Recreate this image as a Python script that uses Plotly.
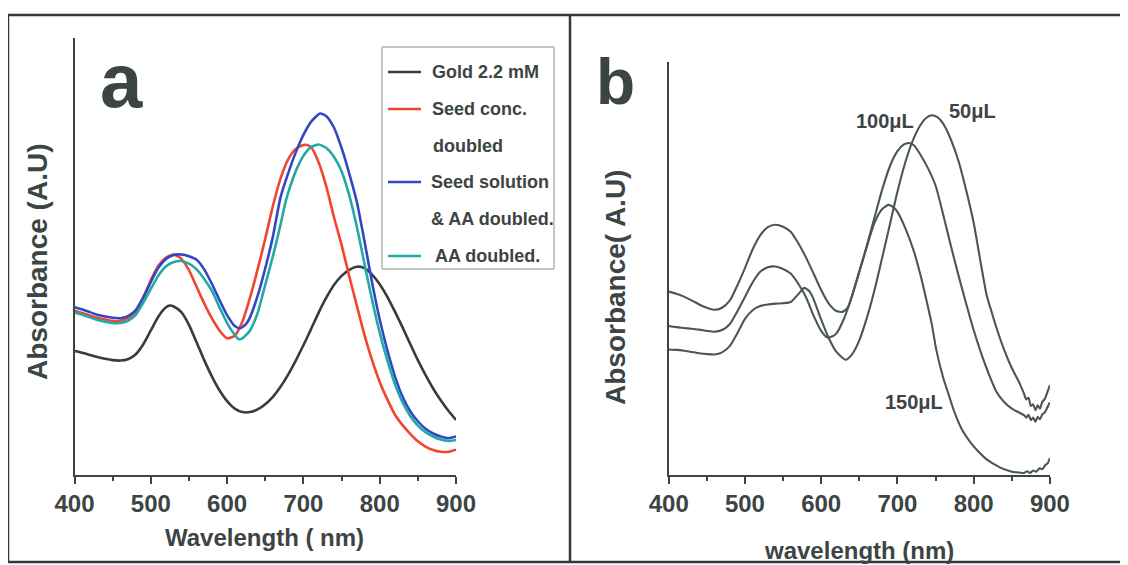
import plotly.graph_objects as go

# ---------------- Panel a data ----------------
wl_gold = [400, 410, 420, 430, 440, 450, 460, 470, 480, 490, 500, 510, 520, 525, 530, 540, 550, 560, 570, 580, 590, 600, 610, 620, 630, 640, 650, 660, 670, 680, 690, 700, 710, 720, 730, 740, 750, 760, 770, 780, 790, 800, 810, 820, 830, 840, 850, 860, 870, 880, 890, 900]
abs_gold = [0.283, 0.279, 0.274, 0.269, 0.265, 0.262, 0.261, 0.264, 0.275, 0.298, 0.330, 0.362, 0.383, 0.387, 0.385, 0.372, 0.343, 0.303, 0.262, 0.225, 0.193, 0.168, 0.151, 0.143, 0.143, 0.149, 0.161, 0.178, 0.201, 0.229, 0.261, 0.296, 0.333, 0.371, 0.405, 0.434, 0.455, 0.469, 0.476, 0.473, 0.458, 0.436, 0.407, 0.373, 0.337, 0.299, 0.262, 0.228, 0.197, 0.170, 0.146, 0.125]

wl_seed = [400, 410, 420, 430, 440, 450, 460, 470, 480, 490, 500, 510, 520, 530, 540, 550, 560, 570, 580, 590, 600, 610, 620, 630, 640, 650, 660, 670, 680, 690, 700, 705, 710, 720, 730, 740, 750, 760, 770, 780, 790, 800, 810, 820, 830, 840, 850, 860, 870, 880, 890, 900]
abs_seed = [0.375, 0.370, 0.364, 0.359, 0.355, 0.352, 0.352, 0.358, 0.373, 0.405, 0.445, 0.478, 0.497, 0.504, 0.494, 0.468, 0.430, 0.392, 0.358, 0.330, 0.312, 0.318, 0.350, 0.405, 0.470, 0.540, 0.615, 0.678, 0.722, 0.746, 0.755, 0.755, 0.750, 0.715, 0.660, 0.590, 0.526, 0.455, 0.387, 0.320, 0.262, 0.212, 0.172, 0.137, 0.113, 0.093, 0.076, 0.064, 0.056, 0.052, 0.052, 0.057]

wl_seed_aa = [400, 410, 420, 430, 440, 450, 460, 470, 480, 490, 500, 510, 520, 530, 540, 550, 560, 570, 580, 590, 600, 610, 617, 625, 630, 641, 654, 660, 670, 680, 690, 700, 710, 722, 730, 740, 751, 760, 770, 780, 790, 800, 810, 820, 830, 840, 850, 860, 870, 880, 890, 900]
abs_seed_aa = [0.383, 0.378, 0.372, 0.366, 0.362, 0.359, 0.358, 0.363, 0.376, 0.405, 0.441, 0.474, 0.494, 0.503, 0.504, 0.500, 0.492, 0.470, 0.437, 0.400, 0.365, 0.340, 0.335, 0.345, 0.360, 0.415, 0.500, 0.545, 0.635, 0.690, 0.738, 0.778, 0.808, 0.827, 0.821, 0.795, 0.743, 0.690, 0.625, 0.535, 0.440, 0.355, 0.285, 0.225, 0.178, 0.145, 0.122, 0.105, 0.094, 0.087, 0.083, 0.087]

wl_aa = [400, 410, 420, 430, 440, 450, 460, 470, 480, 490, 500, 510, 520, 530, 540, 550, 560, 570, 580, 590, 600, 610, 615, 620, 630, 640, 647, 660, 670, 676, 680, 690, 700, 710, 720, 730, 740, 750, 760, 770, 780, 790, 800, 810, 820, 830, 840, 850, 860, 870, 880, 890, 900]
abs_aa = [0.371, 0.366, 0.360, 0.354, 0.350, 0.347, 0.347, 0.352, 0.365, 0.393, 0.425, 0.456, 0.477, 0.487, 0.489, 0.483, 0.470, 0.448, 0.421, 0.383, 0.347, 0.320, 0.310, 0.312, 0.330, 0.370, 0.415, 0.500, 0.572, 0.620, 0.645, 0.695, 0.730, 0.750, 0.756, 0.748, 0.728, 0.695, 0.640, 0.568, 0.483, 0.400, 0.325, 0.262, 0.207, 0.165, 0.134, 0.112, 0.097, 0.087, 0.080, 0.077, 0.079]

legend_a = ["Gold 2.2 mM", "Seed conc.<br>doubled", "Seed solution<br>& AA doubled.", "AA doubled."]

# ---------------- Panel b data ----------------
wl_50 = [400, 410, 420, 430, 440, 450, 460, 470, 480, 490, 500, 510, 520, 530, 540, 550, 560, 570, 578, 585, 590, 600, 610, 620, 632, 640, 650, 660, 670, 680, 690, 700, 710, 720, 730, 738, 745, 752, 760, 770, 780, 790, 800, 810, 817, 825, 830, 840, 850, 860, 866, 869, 872, 875, 878, 881, 884, 887, 890, 893, 896, 900]
abs_50 = [0.303, 0.302, 0.300, 0.297, 0.294, 0.292, 0.291, 0.296, 0.311, 0.342, 0.377, 0.398, 0.408, 0.412, 0.414, 0.415, 0.418, 0.437, 0.452, 0.443, 0.425, 0.375, 0.330, 0.297, 0.278, 0.290, 0.325, 0.380, 0.447, 0.525, 0.605, 0.685, 0.754, 0.808, 0.846, 0.864, 0.870, 0.866, 0.850, 0.812, 0.760, 0.690, 0.610, 0.505, 0.435, 0.385, 0.355, 0.302, 0.258, 0.222, 0.196, 0.182, 0.186, 0.166, 0.170, 0.156, 0.168, 0.160, 0.176, 0.182, 0.196, 0.217]

wl_100 = [400, 410, 420, 430, 440, 450, 460, 470, 480, 490, 500, 510, 520, 530, 540, 550, 560, 570, 580, 590, 600, 610, 620, 628, 635, 650, 660, 670, 680, 690, 700, 708, 715, 722, 730, 740, 750, 760, 770, 780, 790, 800, 810, 820, 830, 840, 850, 862, 866, 869, 872, 875, 878, 881, 884, 887, 890, 893, 896, 900]
abs_100 = [0.443, 0.438, 0.431, 0.422, 0.412, 0.404, 0.399, 0.404, 0.421, 0.458, 0.500, 0.545, 0.579, 0.599, 0.605, 0.600, 0.588, 0.560, 0.526, 0.487, 0.447, 0.414, 0.396, 0.394, 0.405, 0.491, 0.555, 0.623, 0.690, 0.746, 0.783, 0.799, 0.803, 0.797, 0.775, 0.742, 0.700, 0.630, 0.555, 0.483, 0.415, 0.350, 0.293, 0.243, 0.200, 0.176, 0.160, 0.148, 0.144, 0.138, 0.145, 0.132, 0.138, 0.128, 0.140, 0.134, 0.146, 0.150, 0.160, 0.175]

wl_150 = [400, 410, 420, 430, 440, 450, 460, 470, 480, 490, 500, 510, 520, 530, 540, 550, 560, 570, 580, 590, 600, 608, 615, 620, 630, 640, 650, 660, 670, 680, 688, 695, 700, 710, 721, 730, 738, 745, 751, 760, 767, 775, 785, 795, 804, 815, 825, 835, 843, 850, 860, 866, 870, 874, 878, 882, 886, 890, 894, 897, 900]
abs_150 = [0.360, 0.357, 0.355, 0.353, 0.351, 0.348, 0.346, 0.350, 0.364, 0.395, 0.430, 0.465, 0.491, 0.502, 0.504, 0.498, 0.487, 0.462, 0.430, 0.385, 0.348, 0.332, 0.335, 0.342, 0.378, 0.430, 0.492, 0.553, 0.610, 0.643, 0.653, 0.647, 0.636, 0.598, 0.544, 0.485, 0.423, 0.365, 0.302, 0.235, 0.195, 0.150, 0.108, 0.080, 0.060, 0.040, 0.027, 0.017, 0.011, 0.007, 0.005, 0.004, 0.008, 0.004, 0.010, 0.007, 0.015, 0.013, 0.023, 0.027, 0.040]

labels_b = ["50μL", "100μL", "150μL"]
ticks = [400, 500, 600, 700, 800, 900]
tick_text = ["<b>%d</b>" % t for t in ticks]

TXT = "#3d4444"
FONT = "Liberation Sans, Arial, sans-serif"

fig = go.Figure()

colors_a = ["#3b3b3b", "#f0452f", "#3247c4", "#23a9a3"]
series_a = [(wl_gold, abs_gold), (wl_seed, abs_seed), (wl_seed_aa, abs_seed_aa), (wl_aa, abs_aa)]
for (x, y), c, name in zip(series_a, colors_a, legend_a):
    fig.add_trace(go.Scatter(x=x, y=y, mode="lines", line=dict(color=c, width=2.6, shape="spline", smoothing=0.6),
                             name=name, xaxis="x", yaxis="y", showlegend=False))

GB = "#4b5656"
series_b = [(wl_50, abs_50), (wl_100, abs_100), (wl_150, abs_150)]
for (x, y), name in zip(series_b, labels_b):
    fig.add_trace(go.Scatter(x=x, y=y, mode="lines", line=dict(color=GB, width=2.1, shape="spline", smoothing=0.6),
                             name=name, xaxis="x2", yaxis="y2", showlegend=False))

W, H = 1128, 565
OX, OY = 8, 8  # page offset of the plot div
def px(xp): return (xp - OX) / W
def py(yp): return 1 - (yp - OY) / H

axis_common = dict(showgrid=False, zeroline=False, showline=True, linecolor=TXT, linewidth=2,
                   ticks="outside", ticklen=7, tickwidth=2, tickcolor=TXT,
                   tickfont=dict(family=FONT, size=24, color=TXT),
                   tickvals=ticks, ticktext=tick_text, range=[400, 900], automargin=False,
                   minor=dict(ticks="outside", ticklen=4, tickwidth=1.5, tickcolor=TXT, dtick=50))
yaxis_common = dict(showgrid=False, zeroline=False, showline=True, linecolor=TXT, linewidth=2,
                    showticklabels=False, ticks="", range=[0, 1], automargin=False)

fig.update_layout(
    width=W, height=H, margin=dict(l=0, r=0, t=0, b=0, pad=0, autoexpand=False),
    showlegend=False,
    paper_bgcolor="white", plot_bgcolor="rgba(0,0,0,0)",
    xaxis=dict(domain=[px(74.5), px(456)], anchor="y", **axis_common),
    yaxis=dict(domain=[py(474.5), py(38)], anchor="x", **yaxis_common),
    xaxis2=dict(domain=[px(668.7), px(1049.9)], anchor="y2", **axis_common),
    yaxis2=dict(domain=[py(474.6), py(61.6)], anchor="x2", **yaxis_common),
)

shapes = []
for (x0, y0, x1, y1) in [(8, 15, 1136, 15), (8, 15, 8, 562), (8, 562, 1136, 562), (570, 15, 570, 562)]:
    shapes.append(dict(type="line", xref="paper", yref="paper", x0=px(x0), y0=py(y0), x1=px(x1), y1=py(y1),
                       line=dict(color="#333838", width=2.5)))
shapes.append(dict(type="rect", xref="paper", yref="paper", x0=px(382), y0=py(47), x1=px(554), y1=py(269),
                   line=dict(color="#8a8f8f", width=1)))
leg_y = [72, 109, 182, 256]
for yy, c in zip(leg_y, colors_a):
    shapes.append(dict(type="line", xref="paper", yref="paper", x0=px(388), x1=px(421), y0=py(yy), y1=py(yy),
                       line=dict(color=c, width=2.6)))

annotations = []
leg_lines = [("Gold 2.2 mM", 430, 72), ("Seed conc.", 430, 109), ("doubled", 431, 146),
             ("Seed solution", 429, 182), ("& AA doubled.", 429, 219), ("AA doubled.", 433, 256)]
for t, xx, yy in leg_lines:
    annotations.append(dict(text="<b>" + t + "</b>", x=px(xx), y=py(yy), xref="paper", yref="paper",
                            xanchor="left", yanchor="middle", showarrow=False,
                            font=dict(family=FONT, size=18, color=TXT)))

def ann(t, xx, yy, size, angle=0):
    annotations.append(dict(text=t, x=px(xx), y=py(yy), xref="paper", yref="paper", xanchor="center", yanchor="middle",
                            showarrow=False, textangle=angle, font=dict(family=FONT, size=size, color=TXT)))

ann("<b>a</b>", 122, 80, 76)
ann("<b>b</b>", 615, 82, 64)
ann("<b>Wavelength ( nm)</b>", 264, 537, 24)
ann("<b>wavelength (nm)</b>", 859, 550, 24)
ann("<b>Absorbance (A.U)</b>", 37, 262, 28, -90)
ann("<b>Absorbance( A.U)</b>", 615, 288, 28, -90)
ann("<b>100μL</b>", 885, 121, 20)
ann("<b>50μL</b>", 972, 111, 20)
ann("<b>150μL</b>", 914, 402, 20)

fig.update_layout(shapes=shapes, annotations=annotations)
fig.write_html("out.html")
